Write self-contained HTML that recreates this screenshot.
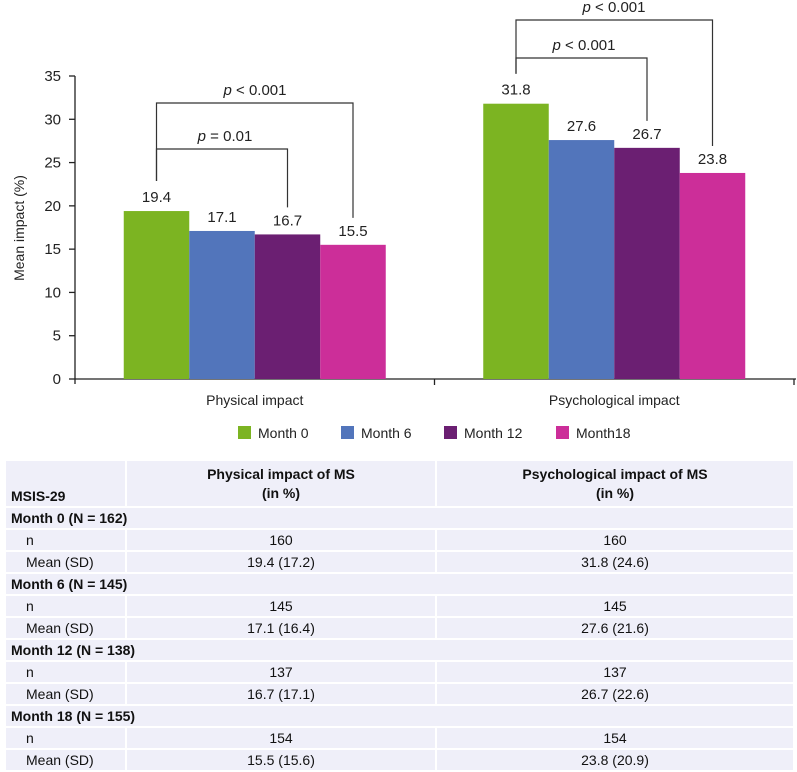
<!DOCTYPE html>
<html><head><meta charset="utf-8"><style>
body{margin:0;width:797px;height:772px;background:#fff;font-family:"Liberation Sans",Arial,sans-serif;overflow:hidden;position:relative}
svg{position:absolute;left:0;top:0}
table{position:absolute;left:4px;top:459px;width:791px;border-collapse:collapse;font-size:14px;color:#111;table-layout:fixed}
td{background:#efeff9;border:2px solid #fff;height:20px;padding:0 5px;line-height:20px}
td.c{text-align:center}
td.b{font-weight:bold}
td.i{padding-left:20px}
tr.h td{height:45px;font-weight:bold;vertical-align:bottom;padding-bottom:0;line-height:19px}
tr.h td.c{vertical-align:middle}
</style></head><body>
<svg id="chart" width="797" height="455"></svg>
<table>
<colgroup><col style="width:121px"><col style="width:310px"><col></colgroup>
<tr class="h"><td>MSIS-29</td><td class="c">Physical impact of MS<br>(in %)</td><td class="c">Psychological impact of MS<br>(in %)</td></tr>
<tr><td class="b" colspan="3">Month 0 (N = 162)</td></tr>
<tr><td class="i">n</td><td class="c">160</td><td class="c">160</td></tr>
<tr><td class="i">Mean (SD)</td><td class="c">19.4 (17.2)</td><td class="c">31.8 (24.6)</td></tr>
<tr><td class="b" colspan="3">Month 6 (N = 145)</td></tr>
<tr><td class="i">n</td><td class="c">145</td><td class="c">145</td></tr>
<tr><td class="i">Mean (SD)</td><td class="c">17.1 (16.4)</td><td class="c">27.6 (21.6)</td></tr>
<tr><td class="b" colspan="3">Month 12 (N = 138)</td></tr>
<tr><td class="i">n</td><td class="c">137</td><td class="c">137</td></tr>
<tr><td class="i">Mean (SD)</td><td class="c">16.7 (17.1)</td><td class="c">26.7 (22.6)</td></tr>
<tr><td class="b" colspan="3">Month 18 (N = 155)</td></tr>
<tr><td class="i">n</td><td class="c">154</td><td class="c">154</td></tr>
<tr><td class="i">Mean (SD)</td><td class="c">15.5 (15.6)</td><td class="c">23.8 (20.9)</td></tr>
</table>
<script>
const categories = ["Physical impact", "Psychological impact"];
const seriesNames = ["Month 0", "Month 6", "Month 12", "Month18"];
const physicalValues = [19.4, 17.1, 16.7, 15.5];
const psychologicalValues = [31.8, 27.6, 26.7, 23.8];
const yTicks = [0, 5, 10, 15, 20, 25, 30, 35];
const colors = ["#7cb422", "#5275bb", "#6b1f72", "#cc2e99"];

const NS = "http://www.w3.org/2000/svg";
const svg = document.getElementById("chart");
const X0 = 75, X1 = 794, Y0 = 379, Y1 = 76, YMAX = 35;
const bandW = (X1 - X0) / categories.length;
const barW = 65.5;
function y(v){ return Y0 - v / YMAX * (Y0 - Y1); }
function bandX(i){ return X0 + i * bandW; }
function barX(ci, si){ return bandX(ci) + bandW / 2 - 2 * barW + si * barW; }
function mk(tag, attrs, parent){ const e = document.createElementNS(NS, tag); for (const k in attrs) e.setAttribute(k, attrs[k]); (parent || svg).appendChild(e); return e; }

const yAxis = mk("line", {x1: X0, y1: Y1, x2: X0, y2: Y0 + 5, stroke: "#222", "stroke-width": 1.3});


const xAxis = mk("line", {x1: X0, y1: Y0, x2: X1 + 2, y2: Y0, stroke: "#222", "stroke-width": 1.3});


for (let i = 1; i <= categories.length; i++) {
  const t = mk("line", {x1: bandX(i), y1: Y0, x2: bandX(i), y2: Y0 + 6, stroke: "#222", "stroke-width": 1.3});
  
  
}
yTicks.forEach(v => {
  const t = mk("line", {x1: X0 - 6, y1: y(v), x2: X0, y2: y(v), stroke: "#222", "stroke-width": 1.3});
  
  
  const l = mk("text", {x: X0 - 14, y: y(v) + 5, "text-anchor": "end", "font-size": 15, fill: "#222"});
  l.textContent = v;
  
  
});
const yt = mk("text", {x: 0, y: 0, "text-anchor": "middle", "font-size": 14, fill: "#222", transform: "translate(24,228) rotate(-90)"});
yt.textContent = "Mean impact (%)";


categories.forEach((c, i) => {
  const t = mk("text", {x: bandX(i) + bandW / 2, y: 405, "text-anchor": "middle", "font-size": 14, fill: "#222"});
  t.textContent = c;
  
  
});

const all = [physicalValues, psychologicalValues];
all.forEach((vals, ci) => {
  vals.forEach((v, si) => {
    const r = mk("rect", {x: barX(ci, si), y: y(v), width: barW, height: Y0 - y(v), fill: colors[si]});
    
    
    const t = mk("text", {x: barX(ci, si) + barW / 2, y: y(v) - 9, "text-anchor": "middle", "font-size": 15, fill: "#222"});
    t.textContent = v.toFixed(1);
    
    
  });
});

function bracket(ci, sj, yTop, label, labelX){
  const vals = all[ci];
  const xa = barX(ci, 0) + barW / 2, xb = barX(ci, sj) + barW / 2;
  const p = mk("path", {d: `M${xa},${y(vals[0]) - 30} V${yTop} H${xb} V${y(vals[sj]) - 27}`, fill: "none", stroke: "#333", "stroke-width": 1.2});
  
  
  const t = mk("text", {x: labelX, y: yTop - 8, "text-anchor": "middle", "font-size": 15, fill: "#222"});
  t.innerHTML = '<tspan font-style="italic">p</tspan> ' + label;
  
  
}
bracket(0, 2, 149, "= 0.01", 225);
bracket(0, 3, 103, "&lt; 0.001", 255);
bracket(1, 2, 58, "&lt; 0.001", 584);
bracket(1, 3, 20, "&lt; 0.001", 614);

const legX = [238, 341, 444, 556];
seriesNames.forEach((n, i) => {
  const g = mk("g", {});
  
  
  mk("rect", {x: legX[i], y: 426, width: 13, height: 13, fill: colors[i]}, g);
  const t = mk("text", {x: legX[i] + 20, y: 438, "font-size": 14, fill: "#222"}, g);
  t.textContent = n;
});
</script>
</body></html>
